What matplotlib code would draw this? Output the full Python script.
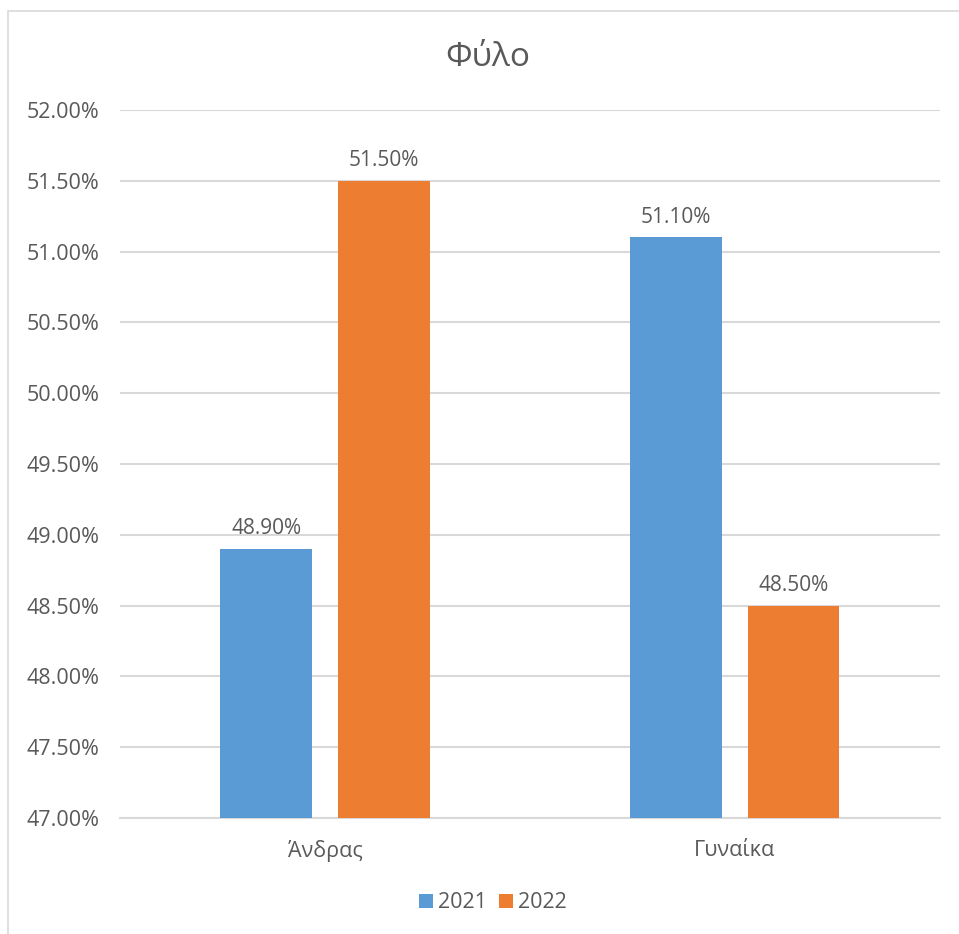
import matplotlib.pyplot as plt
from matplotlib.patches import Rectangle
import numpy as np

plt.rcParams['font.family'] = ['Open Sans', 'DejaVu Sans']

# data
categories = ["Άνδρας", "Γυναίκα"]
years = ["2021", "2022"]
values_2021 = [48.90, 51.10]
values_2022 = [51.50, 48.50]
y_ticks = [47.0, 47.5, 48.0, 48.5, 49.0, 49.5, 50.0, 50.5, 51.0, 51.5, 52.0]

colors = ["#5B9BD5", "#ED7D31"]
text_color = "#595959"
grid_color = "#d9d9d9"

fig = plt.figure(figsize=(9.59, 9.34), dpi=100)
ax = fig.add_axes([0.1251, 0.1242, 0.855, 0.758])

# outer chart border
fig.patches.append(Rectangle((8 / 959, -0.1), 1.2, 1.1 - 11 / 934,
                             transform=fig.transFigure, fill=False,
                             edgecolor=grid_color, linewidth=1.2))

x = np.arange(len(categories))
width = 0.224
offset = 0.143

for vals, off, col, yr in [(values_2021, -offset, colors[0], years[0]),
                           (values_2022, offset, colors[1], years[1])]:
    bars = ax.bar(x + off, np.array(vals) - 47.0, width, bottom=47.0,
                  color=col, label=yr, zorder=3)
    for b, v in zip(bars, vals):
        ax.annotate(f"{v:.2f}%", (b.get_x() + b.get_width() / 2, v),
                    xytext=(0, 7), textcoords="offset points",
                    ha="center", va="bottom", fontsize=15, color=text_color)

ax.set_xlim(-0.5, 1.5)
ax.set_ylim(47.0, 52.0)
ax.set_yticks(y_ticks)
ax.set_yticklabels([f"{t:.2f}%" for t in y_ticks])
ax.set_xticks(x)
ax.set_xticklabels(categories)
ax.tick_params(axis="both", length=0, labelsize=15.5, colors=text_color)
ax.tick_params(axis="y", pad=15)
ax.tick_params(axis="x", pad=16)

ax.grid(axis="y", color=grid_color, linewidth=1.5, zorder=0)
for s in ["top", "right", "left"]:
    ax.spines[s].set_visible(False)
ax.spines["bottom"].set_color(grid_color)
ax.spines["bottom"].set_linewidth(1.5)

fig.text(0.509, 1 - 57 / 934, "Φύλο", ha="center", va="center",
         fontsize=24, color=text_color)

ax.legend(loc="center", bbox_to_anchor=(0.514, 1 - 903 / 934), bbox_transform=fig.transFigure,
          ncol=2, frameon=False, fontsize=15.5, handlelength=0.65, handleheight=0.65,
          handletextpad=0.2, columnspacing=0.6, labelcolor=text_color)

plt.savefig("out.png", dpi=100)
